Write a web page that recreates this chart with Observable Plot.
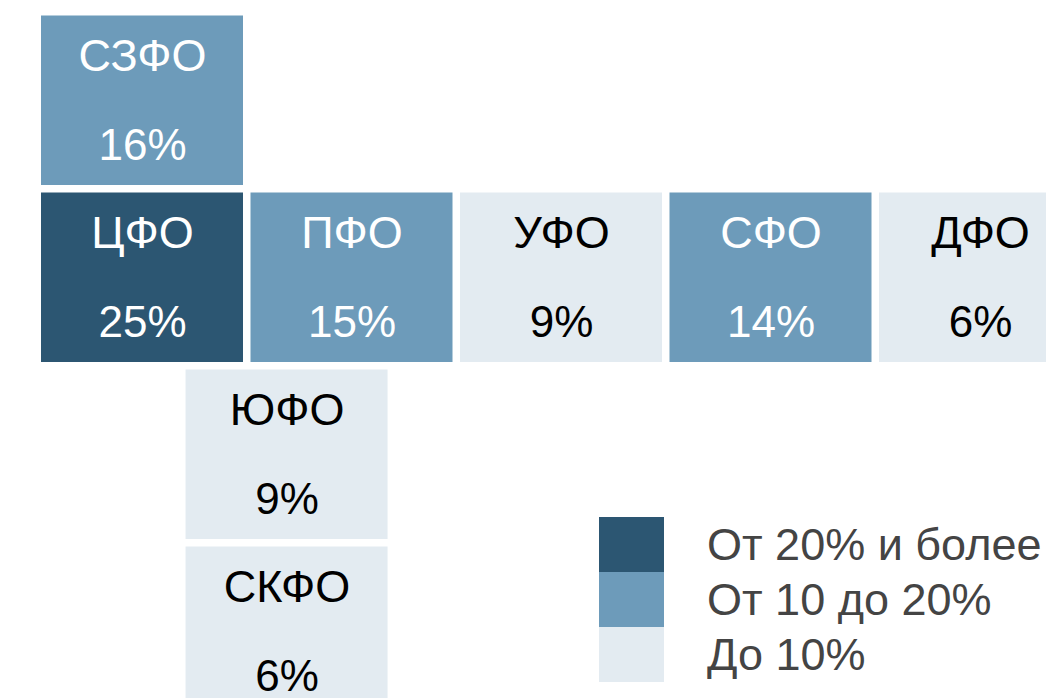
<!DOCTYPE html>
<html>
<head>
<meta charset="utf-8">
<script src="https://cdn.jsdelivr.net/npm/d3@7"></script>
<script src="https://cdn.jsdelivr.net/npm/@observablehq/plot@0.6"></script>
<style>
  html, body { margin: 0; padding: 0; background: #fff; overflow: hidden; }
  #wrap { position: relative; width: 1046px; height: 698px; font-family: "Liberation Sans", Arial, sans-serif; }
  #legend { position: absolute; left: 599px; top: 517px; }
  .row { display: flex; align-items: center; height: 55px; }
  .sw { width: 65px; height: 55px; }
  .lb { margin-left: 43px; font-size: 45px; color: #444; white-space: nowrap; }
</style>
</head>
<body>
<div id="wrap"></div>
<script>
// Data
const districts = ["СЗФО", "ЦФО", "ПФО", "УФО", "СФО", "ДФО", "ЮФО", "СКФО"];
const shares    = [16, 25, 15, 9, 14, 6, 9, 6];           // %
const cols      = [0, 0, 1, 2, 3, 4, 0.69, 0.69];          // tile-grid column
const rows      = [0, 1, 1, 1, 1, 1, 2, 3];                // tile-grid row
const thresholds = [10, 20];
const palette = ["#e3ebf1", "#6d9bba", "#2c5672"];
const legendLabels = ["От 20% и более", "От 10 до 20%", "До 10%"];

const data = districts.map((name, i) => ({name, value: shares[i], col: cols[i], row: rows[i]}));

const W = 1046, H = 698;
const marginLeft = 37.25, marginTop = 11.75;
const pitchX = 209.5, pitchY = 177;

const chart = Plot.plot({
  width: W,
  height: H,
  marginLeft, marginTop, marginRight: 0, marginBottom: 0,
  x: {domain: [0, (W - marginLeft) / pitchX], axis: null},
  y: {domain: [0, (H - marginTop) / pitchY], axis: null, reverse: true},
  color: {type: "threshold", domain: thresholds, range: palette},
  style: {fontFamily: "'Liberation Sans', Arial, sans-serif", background: "transparent"},
  marks: [
    Plot.rect(data, {
      x1: "col", x2: d => d.col + 1,
      y1: "row", y2: d => d.row + 1,
      fill: "value", inset: 3.75, clip: true
    }),
    Plot.text(data, {
      x: d => d.col + 0.5, y: d => d.row + 0.25,
      text: "name", fontSize: 45,
      fill: d => d.value >= thresholds[0] ? "white" : "black"
    }),
    Plot.text(data, {
      x: d => d.col + 0.5, y: d => d.row + 0.756,
      text: d => d.value + "%", fontSize: 44,
      fill: d => d.value >= thresholds[0] ? "white" : "black"
    })
  ]
});

const wrap = document.getElementById("wrap");
wrap.appendChild(chart);

const legend = document.createElement("div");
legend.id = "legend";
[2, 1, 0].forEach((ci, k) => {
  const r = document.createElement("div");
  r.className = "row";
  const sw = document.createElement("div");
  sw.className = "sw";
  sw.style.background = palette[ci];
  const lb = document.createElement("div");
  lb.className = "lb";
  lb.textContent = legendLabels[k];
  r.appendChild(sw); r.appendChild(lb);
  legend.appendChild(r);
});
wrap.appendChild(legend);
</script>
</body>
</html>
